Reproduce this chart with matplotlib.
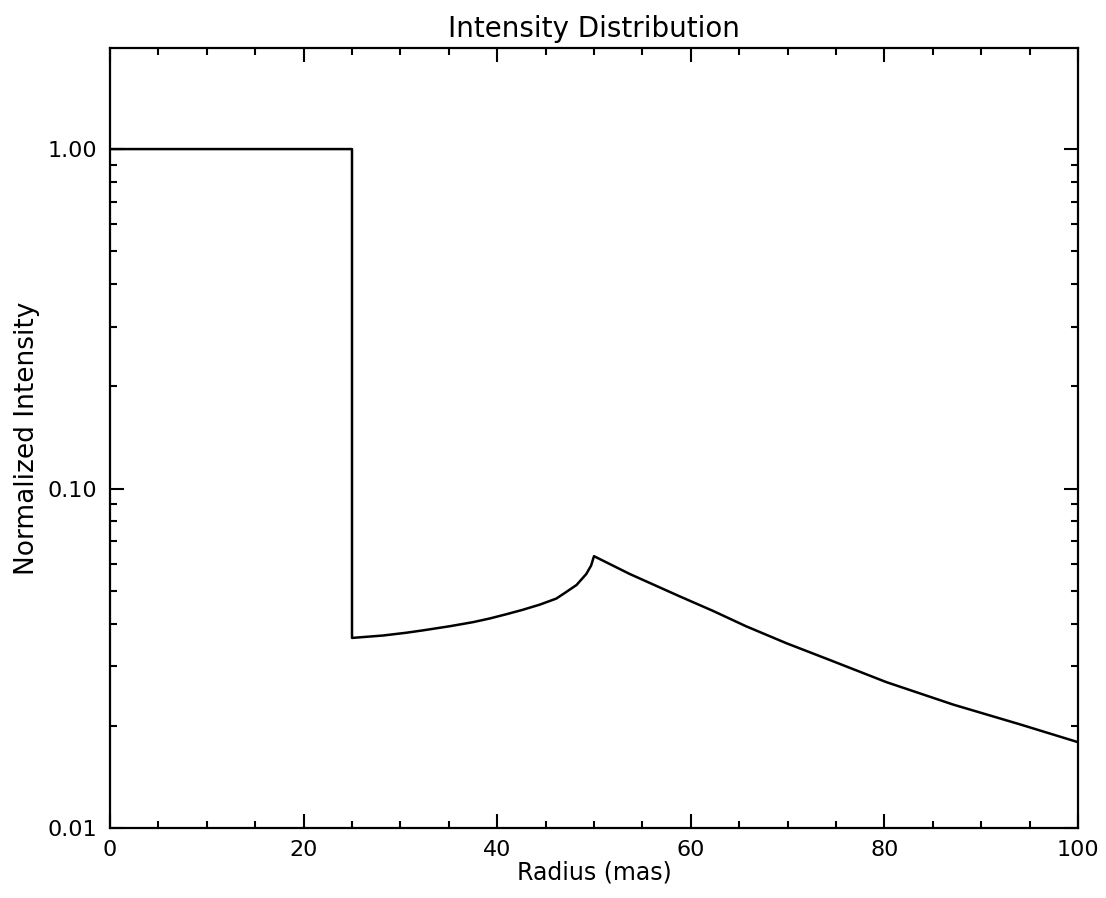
import numpy as np
import matplotlib
matplotlib.use("Agg")
import matplotlib.pyplot as plt
from matplotlib.ticker import MultipleLocator, LogLocator, FixedLocator, NullFormatter

# Profil d'intensité
radius = [0, 25, 25, 28.2, 30.6, 32.3, 35.1, 37.5, 39.2, 40.9, 42.6, 44.4,
          46.1, 47.1, 48.2, 49.2, 49.7, 50.0,
          53.7, 58.8, 62.3, 65.7, 69.9, 74.3, 80.2, 87.1, 94.0, 100]
intensity = [1.0, 1.0, 0.0363, 0.0369, 0.0376, 0.0382, 0.0393, 0.0404,
             0.0414, 0.0426, 0.0439, 0.0455, 0.0474, 0.0495, 0.0520,
             0.0560, 0.0593, 0.0632,
             0.0560, 0.0482, 0.0436, 0.0393, 0.0350, 0.0313, 0.0269,
             0.0231, 0.0202, 0.0179]

y_ticks = [0.01, 0.1, 1.0]
y_labels = ["0.01", "0.10", "1.00"]

fig = plt.figure(figsize=(11.06, 8.98), dpi=100)
ax = fig.add_axes([110 / 1106, 70 / 898, 968 / 1106, 780 / 898])

ax.plot(radius, intensity, color="black", lw=1.8)

ax.set_yscale("log")
ax.set_xlim(0, 100)
ax.set_ylim(0.01, 1.985)

ax.xaxis.set_major_locator(MultipleLocator(20))
ax.xaxis.set_minor_locator(MultipleLocator(5))
ax.yaxis.set_major_locator(FixedLocator(y_ticks))
ax.set_yticklabels(y_labels)
ax.yaxis.set_minor_locator(LogLocator(base=10, subs=np.arange(2, 10)))
ax.yaxis.set_minor_formatter(NullFormatter())

ax.tick_params(which="both", direction="in", top=True, right=True,
               labelsize=16, width=1.5)
ax.tick_params(which="major", length=10, pad=9)
ax.tick_params(which="minor", length=5)
for s in ax.spines.values():
    s.set_linewidth(1.6)

ax.set_title("Intensity Distribution", fontsize=20, pad=8)
ax.set_xlabel("Radius (mas)", fontsize=17, labelpad=0)
ax.set_ylabel("Normalized Intensity", fontsize=19, labelpad=6)

fig.savefig("out.png", dpi=100)
